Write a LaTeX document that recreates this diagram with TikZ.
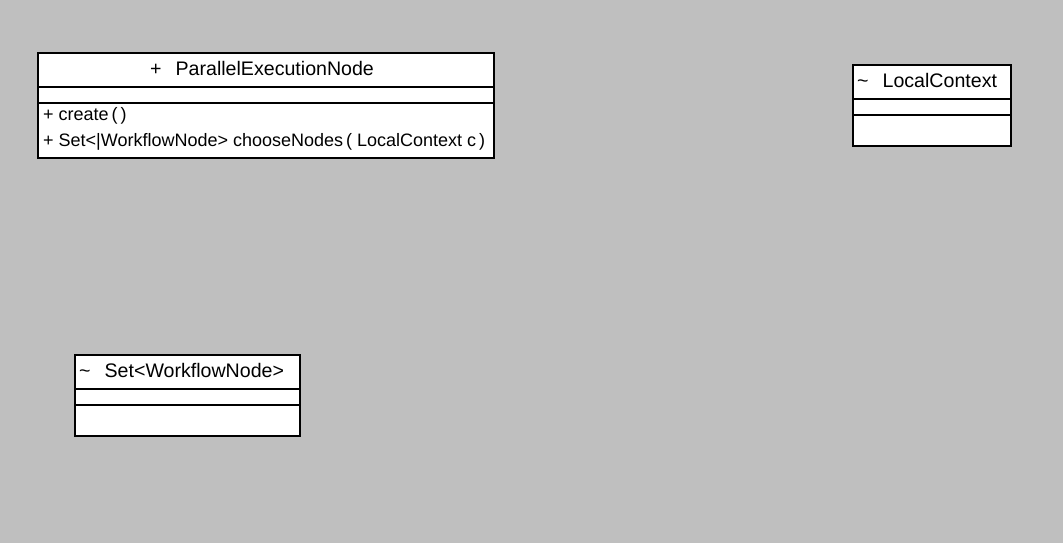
\documentclass[tikz,border=0pt]{standalone}
\usepackage{fontspec}
\setmainfont{Liberation Sans}
\definecolor{bggray}{RGB}{191,191,191}
\begin{document}
\begin{tikzpicture}[x=1pt,y=-1pt,
  cls/.style={draw=black, fill=white, line width=1.8pt, rectangle, inner sep=0pt, anchor=north west},
  htxt/.style={font=\fontsize{19.6}{22}\selectfont, inner sep=0pt},
  mtxt/.style={font=\fontsize{18}{20}\selectfont, inner sep=0pt, anchor=west}]
\fill[bggray] (0,0) rectangle (1063,543);
\useasboundingbox (0,0) rectangle (1063,543);
% ParallelExecutionNode
\node[cls, minimum width=456pt, minimum height=34pt] (penHead) at (37,52) {};
\node[cls, minimum width=456pt, minimum height=16pt] (penAttr) at (37,86) {};
\node[cls, minimum width=456pt, minimum height=55pt] (penOps) at (37,102) {};
\node[htxt, anchor=west] (penName) at (150,68.5) {+\hspace{14pt}ParallelExecutionNode};
\node[mtxt] (penOpA) at (43,116) {+ create\,(\,)};
\node[mtxt] (penOpB) at (43,142) {+ Set<|WorkflowNode> chooseNodes\,( LocalContext c\,)};
% LocalContext
\node[cls, minimum width=158pt, minimum height=34pt] (lcHead) at (852,64) {};
\node[cls, minimum width=158pt, minimum height=16pt] (lcAttr) at (852,98) {};
\node[cls, minimum width=158pt, minimum height=31pt] (lcOps) at (852,114) {};
\node[htxt, anchor=west] (lcName) at (857,80) {\textasciitilde\hspace{14pt}LocalContext};
% Set<WorkflowNode>
\node[cls, minimum width=225pt, minimum height=34pt] (swHead) at (74,354) {};
\node[cls, minimum width=225pt, minimum height=16pt] (swAttr) at (74,388) {};
\node[cls, minimum width=225pt, minimum height=31pt] (swOps) at (74,404) {};
\node[htxt, anchor=west] (swName) at (79,370) {\textasciitilde\hspace{14pt}Set<WorkflowNode>};
\end{tikzpicture}
\end{document}
